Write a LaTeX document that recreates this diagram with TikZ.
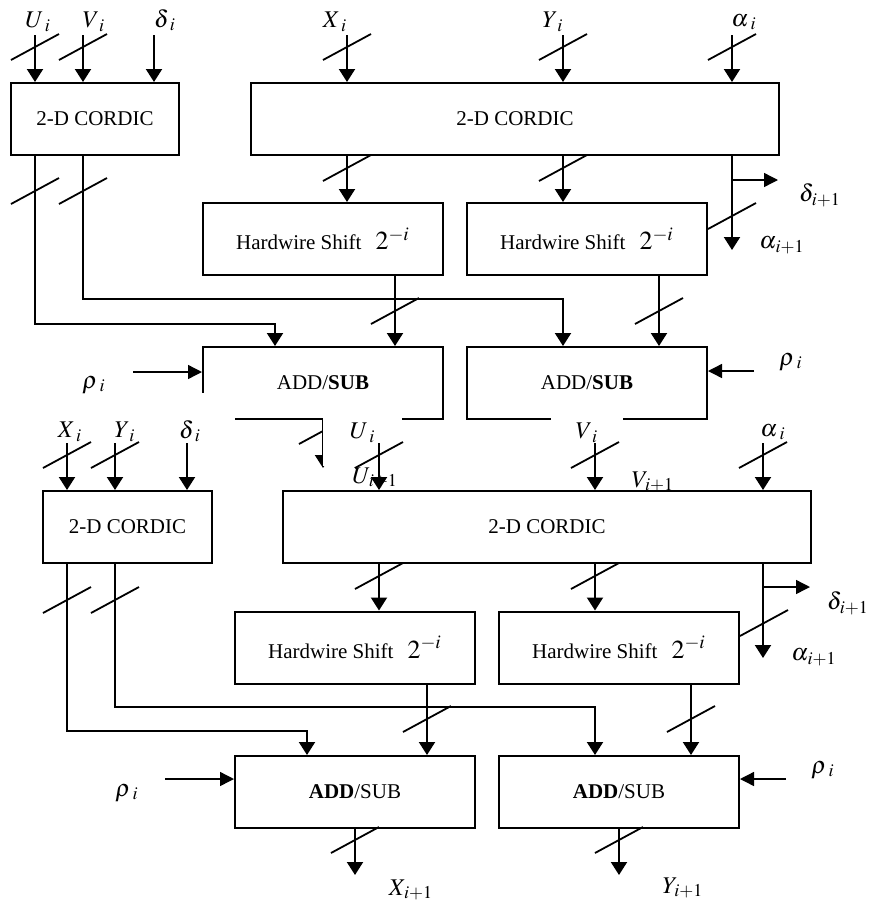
\documentclass[tikz,border=0pt]{standalone}
\usepackage{mathptmx}
\usepackage{fontspec}
\setmainfont{Liberation Serif}
\usetikzlibrary{arrows.meta}

\tikzset{
  blk/.style={draw, line width=1pt, minimum width=120pt, minimum height=36pt,
    inner sep=0pt, font=\fontsize{10.5}{12}\selectfont},
  lbl/.style={inner sep=0pt, font=\fontsize{12}{14}\selectfont},
  cover/.style={lbl, fill=white},
  arr/.style={line width=1pt, -{Triangle[width=8pt,length=6.5pt]}},
  thinarr/.style={line width=0.7pt, -{Triangle[width=7pt,length=7pt]}},
  slash/.style={line width=0.9pt},
}
\newcommand{\hws}{Hardwire Shift\hspace{7pt}{\fontsize{13}{14}\selectfont$2^{-i}$}}
\newcommand{\lab}[3][4mu]{$#2_{\mkern#1 #3}$}

\begin{document}
\begin{tikzpicture}[x=0.5pt,y=-0.5pt]
\useasboundingbox (0,0) rectangle (869,906);

% ---- first stage: blocks
\node[blk, minimum width=84pt] (cl1) at (95,119) {2-D CORDIC};
\node[blk, minimum width=264pt] (cr1) at (515,119) {2-D CORDIC};
\node[blk] (hs1) at (323,239) {\hws};
\node[blk] (hs2) at (587,239) {\hws};
\node[blk] (add1) at (323,383) {ADD/\textbf{SUB}};
\node[blk] (add2) at (587,383) {ADD/\textbf{SUB}};

% ---- first stage: labels
\node[lbl] (lu1) at (38,22) {\lab{U}{i}};
\node[lbl] (lv1) at (94,22) {\lab{V}{i}};
\node[lbl] (ld1) at (165,20) {\lab{\delta}{i}};
\node[lbl] (lx1) at (335,22) {\lab{X}{i}};
\node[lbl] (ly1) at (553,22) {\lab{Y}{i}};
\node[lbl] (la1) at (744,22) {\lab{\alpha}{i}};
\node[lbl] (ldn1) at (820,195) {\lab[1mu]{\delta}{i+1}};
\node[lbl] (lan1) at (782,245) {\lab[1mu]{\alpha}{i+1}};
\node[lbl] (lr1) at (94,385) {\lab{\rho}{i}};
\node[lbl] (lr2) at (791,362) {\lab{\rho}{i}};

% ---- first stage: wire ends
\coordinate (u1) at (35,35);
\coordinate (v1) at (83,35);
\coordinate (d1) at (154,35);
\coordinate (x1) at (347,35);
\coordinate (y1) at (563,35);
\coordinate (a1) at (732,35);
\coordinate (t1) at (275,324);
\coordinate (t2) at (563,299);
\coordinate (s1) at (395,0);
\coordinate (s2) at (659,0);
\coordinate (ao1) at (732,250);
\coordinate (db1) at (732,180);
\coordinate (de1) at (778,180);
\coordinate (r1) at (133,372);
\coordinate (r2) at (754,371);

% inputs
\foreach \c in {u1,v1,d1} \draw[arr] (\c) -- (\c |- cl1.north);
\foreach \c in {x1,y1,a1} \draw[arr] (\c) -- (\c |- cr1.north);

% left CORDIC to adders
\draw[arr] (u1 |- cl1.south) |- (t1) -- (t1 |- add1.north);
\draw[arr] (v1 |- cl1.south) |- (t2) -- (t2 |- add2.north);

% right CORDIC to shifters, angle out
\draw[arr] (x1 |- cr1.south) -- (x1 |- hs1.north);
\draw[arr] (y1 |- cr1.south) -- (y1 |- hs2.north);
\draw[arr] (a1 |- cr1.south) -- (ao1);
\draw[thinarr] (db1) -- (de1);

% shifters to adders
\draw[arr] (s1 |- hs1.south) -- (s1 |- add1.north);
\draw[arr] (s2 |- hs2.south) -- (s2 |- add2.north);
\draw[thinarr] (r1) -- (r1 -| add1.west);
\draw[thinarr] (r2) -- (r2 -| add2.east);
\draw[arr] (add1.south) -- ++(0,48);

% bus marks
\foreach \p in {(35,47),(83,47),(347,47),(563,47),(732,47),(35,191),(83,191),
  (347,168),(563,168),(732,216),(395,311),(659,311),(323,431)}
  \draw[slash] \p ++(-24,13) -- ++(48,-26);

% ---- second stage: labels
\node[lbl] (lx2) at (70,432) {\lab{X}{i}};
\node[lbl] (ly2) at (125,432) {\lab{Y}{i}};
\node[cover, minimum width=45pt, minimum height=38pt] (ld2) at (190,431) {\lab{\delta}{i}};
\node[cover, minimum width=39.5pt, minimum height=33pt] (lu2) at (362.5,433) {\lab{U}{i}};
\node[cover, minimum width=36pt, minimum height=33pt] (lv2) at (587,433) {\lab{V}{i}};
\node[lbl] (la2) at (773,432) {\lab{\alpha}{i}};
\node[lbl] (luo) at (375,478) {\lab[1mu]{U}{i+1}};
\node[lbl] (lvo) at (653,482) {\lab[1mu]{V}{i+1}};
\node[lbl] (ldn2) at (848,603) {\lab[1mu]{\delta}{i+1}};
\node[lbl] (lan2) at (814,657) {\lab[1mu]{\alpha}{i+1}};
\node[lbl] (lr3) at (127,793) {\lab{\rho}{i}};
\node[lbl] (lr4) at (823,770) {\lab{\rho}{i}};
\node[lbl] (lxo) at (411,890) {\lab[1mu]{X}{i+1}};
\node[lbl] (lyo) at (683,888) {\lab[1mu]{Y}{i+1}};

% ---- second stage: blocks
\node[blk, minimum width=84.5pt] (cl2) at (127.5,527) {2-D CORDIC};
\node[blk, minimum width=264pt] (cr2) at (547,527) {2-D CORDIC};
\node[blk] (hs3) at (355,647.5) {\hws};
\node[blk] (hs4) at (619,647.5) {\hws};
\node[blk] (add3) at (355,792) {\textbf{ADD}/SUB};
\node[blk] (add4) at (619,792) {\textbf{ADD}/SUB};

% ---- second stage: wire ends
\coordinate (x2) at (67,443);
\coordinate (y2) at (115,443);
\coordinate (d2) at (187,443);
\coordinate (u2) at (379,443);
\coordinate (v2) at (595,443);
\coordinate (a2) at (763,443);
\coordinate (t3) at (307,731);
\coordinate (t4) at (595,707);
\coordinate (s3) at (427,0);
\coordinate (s4) at (691,0);
\coordinate (ao2) at (763,658);
\coordinate (db2) at (763,587);
\coordinate (de2) at (810,587);
\coordinate (r3) at (165,779);
\coordinate (r4) at (786,779);

% inputs
\foreach \c in {x2,y2,d2} \draw[arr] (\c) -- (\c |- cl2.north);
\foreach \c in {u2,v2,a2} \draw[arr] (\c) -- (\c |- cr2.north);

% left CORDIC to adders
\draw[arr] (x2 |- cl2.south) |- (t3) -- (t3 |- add3.north);
\draw[arr] (y2 |- cl2.south) |- (t4) -- (t4 |- add4.north);

% right CORDIC to shifters, angle out
\draw[arr] (u2 |- cr2.south) -- (u2 |- hs3.north);
\draw[arr] (v2 |- cr2.south) -- (v2 |- hs4.north);
\draw[arr] (a2 |- cr2.south) -- (ao2);
\draw[thinarr] (db2) -- (de2);

% shifters to adders, outputs
\draw[arr] (s3 |- hs3.south) -- (s3 |- add3.north);
\draw[arr] (s4 |- hs4.south) -- (s4 |- add4.north);
\draw[thinarr] (r3) -- (r3 -| add3.west);
\draw[thinarr] (r4) -- (r4 -| add4.east);
\draw[arr] (add3.south) -- ++(0,46);
\draw[arr] (add4.south) -- ++(0,46);

% bus marks
\foreach \p in {(67,455),(115,455),(379,455),(595,455),(763,455),(67,600),(115,600),
  (379,576),(595,576),(764,623),(427,719),(691,719),(355,840),(619,840)}
  \draw[slash] \p ++(-24,13) -- ++(48,-26);
\end{tikzpicture}
\end{document}
